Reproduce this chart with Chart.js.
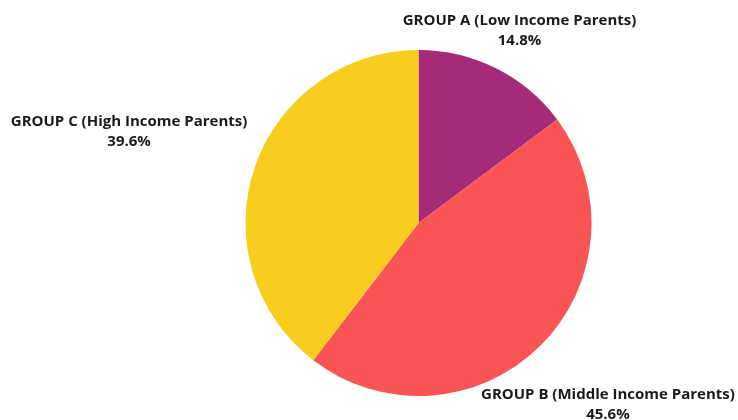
<!DOCTYPE html>
<html>
<head>
<meta charset="utf-8">
<script src="https://cdn.jsdelivr.net/npm/chart.js@4/dist/chart.umd.min.js"></script>
<style>
html,body{margin:0;padding:0;background:#fff;}
#wrap{width:738px;height:420px;position:relative;}
</style>
</head>
<body>
<div id="wrap"><canvas id="c" width="738" height="420"></canvas></div>
<script>
const categories = ["GROUP A (Low Income Parents)", "GROUP B (Middle Income Parents)", "GROUP C (High Income Parents)"];
const shares = [14.8, 45.6, 39.6];
const sliceColors = ["#A62A7A", "#F95555", "#F9CD1F"];
// label anchor offsets from the pie centre, in units of the pie radius
const labelOffsetX = [0.584, 1.095, -1.673];
const labelOffsetY = [-1.113, 1.052, -0.529];

const labelPlugin = {
  id: 'pieLabels',
  afterDatasetsDraw(chart) {
    const ctx = chart.ctx;
    const meta = chart.getDatasetMeta(0);
    const total = shares.reduce((a, b) => a + b, 0);
    ctx.save();
    ctx.fillStyle = '#1a1a1a';
    ctx.textAlign = 'center';
    ctx.textBaseline = 'middle';
    ctx.font = 'bold 15px "Open Sans"';
    meta.data.forEach((arc, i) => {
      const p = arc.getProps(['x', 'y', 'outerRadius'], true);
      const x = p.x + labelOffsetX[i] * p.outerRadius;
      const y = p.y + labelOffsetY[i] * p.outerRadius;
      ctx.fillText(categories[i], x, y - 10);
      ctx.fillText((shares[i] / total * 100).toFixed(1) + '%', x, y + 10);
    });
    ctx.restore();
  }
};

new Chart(document.getElementById('c'), {
  type: 'pie',
  data: {
    labels: categories,
    datasets: [{
      data: shares,
      backgroundColor: sliceColors,
      borderWidth: 0
    }]
  },
  options: {
    responsive: false,
    animation: false,
    layout: { padding: { top: 50, bottom: 24, left: 245.5, right: 146.5 } },
    plugins: { legend: { display: false }, tooltip: { enabled: false } }
  },
  plugins: [labelPlugin]
});
</script>
</body>
</html>
